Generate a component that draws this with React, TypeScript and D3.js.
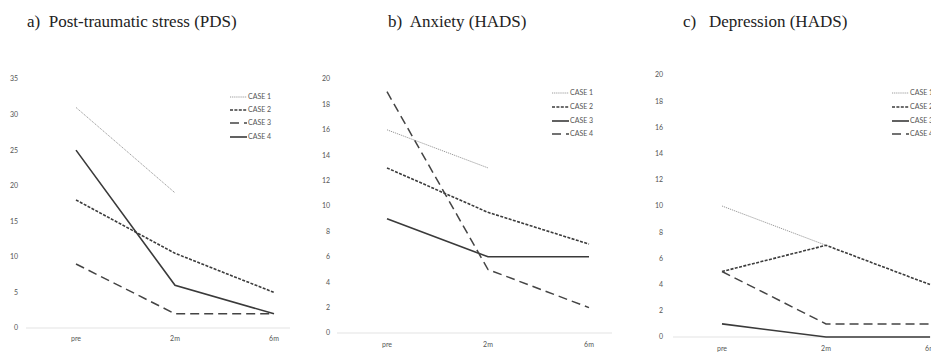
import React from "react";
import * as d3 from "d3";

const timepoints = ["pre", "2m", "6m"];
const caseNames = ["CASE 1", "CASE 2", "CASE 3", "CASE 4"];

// Panel a: Post-traumatic stress (PDS)
const pdsCase1 = [31, 19, null];
const pdsCase2 = [18, 10.5, 5];
const pdsCase3 = [9, 2, 2];
const pdsCase4 = [25, 6, 2];
const pdsTicks = [0, 5, 10, 15, 20, 25, 30, 35];

// Panel b: Anxiety (HADS)
const anxCase1 = [16, 13, null];
const anxCase2 = [13, 9.5, 7];
const anxCase3 = [9, 6, 6];
const anxCase4 = [19, 5, 2];
const hadsTicks = [0, 2, 4, 6, 8, 10, 12, 14, 16, 18, 20];

// Panel c: Depression (HADS)
const depCase1 = [10, 7, null];
const depCase2 = [5, 7, 4];
const depCase3 = [1, 0, 0];
const depCase4 = [5, 1, 1];

type Style = { stroke: string; width: number; dash: string };
const dotted: Style = { stroke: "#9a9a9a", width: 1, dash: "1.2,0.9" };
const shortDash: Style = { stroke: "#3c3c3c", width: 1.6, dash: "3,1.4" };
const longDash: Style = { stroke: "#444444", width: 1.5, dash: "9,5" };
const solid: Style = { stroke: "#3a3a3a", width: 1.6, dash: "" };

type Panel = {
  title: string;
  titleX: number;
  series: (number | null)[][];
  styles: Style[];
  yMax: number;
  ticks: number[];
  yTop: number;
  yBottom: number;
  xFirst: number;
  xLast: number;
  axisX0: number;
  axisX1: number;
  tickX: number;
  catY: number;
  legendX: number;
  legendY: number[];
};

const panels: Panel[] = [
  {
    title: "a)  Post-traumatic stress (PDS)",
    titleX: 27,
    series: [pdsCase1, pdsCase2, pdsCase3, pdsCase4],
    styles: [dotted, shortDash, longDash, solid],
    yMax: 35,
    ticks: pdsTicks,
    yTop: 79,
    yBottom: 328,
    xFirst: 76,
    xLast: 274,
    axisX0: 26,
    axisX1: 290,
    tickX: 18,
    catY: 339,
    legendX: 230,
    legendY: [97, 110, 123, 137],
  },
  {
    title: "b)  Anxiety (HADS)",
    titleX: 388,
    series: [anxCase1, anxCase2, anxCase3, anxCase4],
    styles: [dotted, shortDash, solid, longDash],
    yMax: 20,
    ticks: hadsTicks,
    yTop: 79,
    yBottom: 333,
    xFirst: 387,
    xLast: 589,
    axisX0: 337,
    axisX1: 612,
    tickX: 330,
    catY: 345,
    legendX: 552,
    legendY: [93, 107, 121, 134],
  },
  {
    title: "c)   Depression (HADS)",
    titleX: 683,
    series: [depCase1, depCase2, depCase3, depCase4],
    styles: [dotted, shortDash, solid, longDash],
    yMax: 20,
    ticks: hadsTicks,
    yTop: 75,
    yBottom: 337,
    xFirst: 722,
    xLast: 930,
    axisX0: 673,
    axisX1: 960,
    tickX: 663,
    catY: 349,
    legendX: 892,
    legendY: [93, 107, 121, 134],
  },
];

function PanelView({ p }: { p: Panel }) {
  const x = d3.scalePoint<string>().domain(timepoints).range([p.xFirst, p.xLast]);
  const y = d3.scaleLinear().domain([0, p.yMax]).range([p.yBottom, p.yTop]);
  const line = d3
    .line<number | null>()
    .defined((d) => d !== null)
    .x((_, i) => x(timepoints[i]) as number)
    .y((d) => y(d as number));
  const tickFont = "Lato, 'Open Sans', sans-serif";
  return (
    <g>
      <text
        x={p.titleX}
        y={27}
        fontFamily="'Liberation Serif', 'Times New Roman', serif"
        fontSize={17}
        fill="#222"
        style={{ whiteSpace: "pre" }}
      >
        {p.title}
      </text>
      <line x1={p.axisX0} x2={p.axisX1} y1={p.yBottom} y2={p.yBottom} stroke="#dcdcdc" strokeWidth={0.8} />
      {p.ticks.map((t) => (
        <text
          key={t}
          x={p.tickX}
          y={y(t)}
          dy="0.35em"
          textAnchor="end"
          fontFamily={tickFont}
          fontSize={7}
          fill="#555"
        >
          {t}
        </text>
      ))}
      {timepoints.map((c) => (
        <text
          key={c}
          x={x(c)}
          y={p.catY}
          dy="0.35em"
          textAnchor="middle"
          fontFamily={tickFont}
          fontSize={7}
          fill="#555"
        >
          {c}
        </text>
      ))}
      {p.series.map((s, i) => (
        <path
          key={i}
          d={line(s) || ""}
          fill="none"
          stroke={p.styles[i].stroke}
          strokeWidth={p.styles[i].width}
          strokeDasharray={p.styles[i].dash}
        />
      ))}
      {caseNames.map((n, i) => (
        <g key={n}>
          <line
            x1={p.legendX}
            x2={p.legendX + 17}
            y1={p.legendY[i]}
            y2={p.legendY[i]}
            stroke={p.styles[i].stroke}
            strokeWidth={p.styles[i].width}
            strokeDasharray={p.styles[i].dash}
          />
          <text
            x={p.legendX + 18}
            y={p.legendY[i]}
            dy="0.35em"
            fontFamily={tickFont}
            fontSize={7}
            fill="#555"
          >
            {n}
          </text>
        </g>
      ))}
    </g>
  );
}

export default function App() {
  return (
    <svg
      width={931}
      height={352}
      style={{ position: "absolute", left: 0, top: 0, background: "#fff" }}
    >
      <rect width={931} height={352} fill="#fff" />
      {panels.map((p, i) => (
        <PanelView key={i} p={p} />
      ))}
    </svg>
  );
}
